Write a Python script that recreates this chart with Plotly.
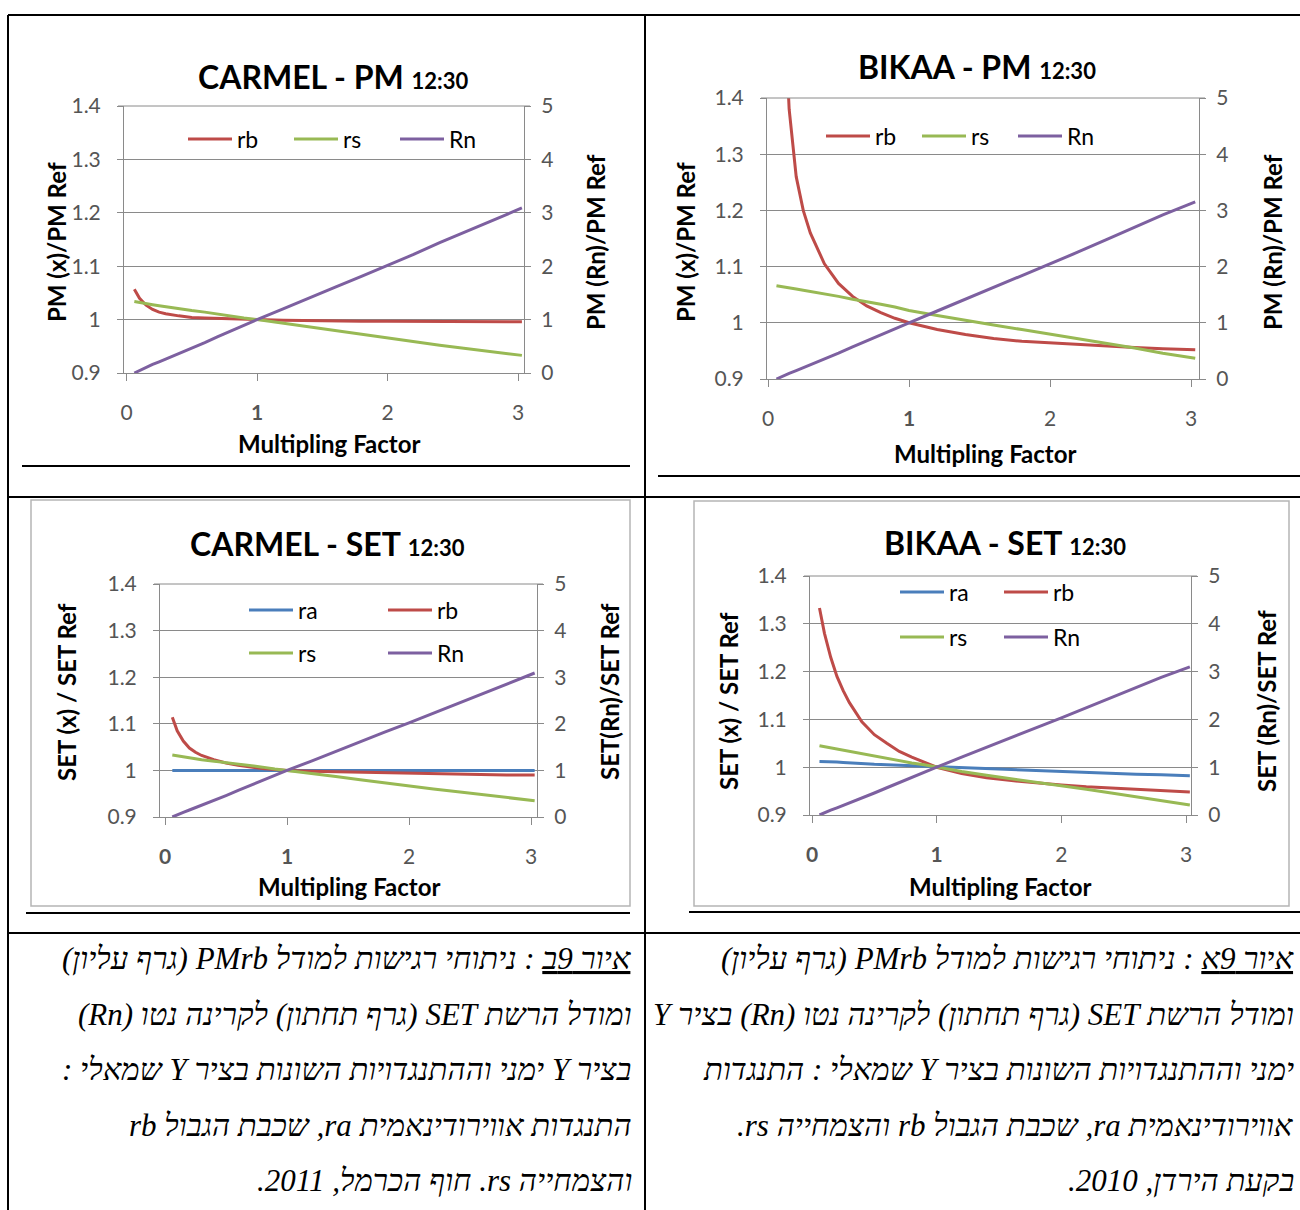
import plotly.graph_objects as go

W, H = 1300, 1210

# ---- data -------------------------------------------------------------
FACTOR = [0.06, 0.1, 0.15, 0.2, 0.25, 0.3, 0.4, 0.5, 0.6, 0.7, 0.8, 0.9, 1.0,
          1.2, 1.4, 1.6, 1.8, 2.0, 2.2, 2.4, 2.6, 2.8, 3.03]

# CARMEL - PM
CARMEL_PM_RB = [1.057, 1.040, 1.027, 1.019, 1.014, 1.011, 1.007, 1.004, 1.003, 1.002, 1.001, 1.0005, 1.0,
                0.999, 0.998, 0.998, 0.997, 0.997, 0.997, 0.996, 0.996, 0.996, 0.996]
CARMEL_PM_RS = [1.034, 1.032, 1.030, 1.028, 1.026, 1.024, 1.020, 1.017, 1.014, 1.010, 1.007, 1.003, 1.0,
                0.993, 0.986, 0.979, 0.972, 0.966, 0.959, 0.952, 0.946, 0.940, 0.933]
CARMEL_PM_RN = [0.0, 0.05, 0.10, 0.16, 0.21, 0.26, 0.36, 0.46, 0.57, 0.68, 0.79, 0.89, 1.0,
                1.20, 1.41, 1.61, 1.81, 2.01, 2.22, 2.44, 2.65, 2.86, 3.09]

# BIKAA - PM
BIKAA_PM_RB = [2.20, 1.65, 1.38, 1.26, 1.20, 1.16, 1.105, 1.07, 1.047, 1.030, 1.018, 1.008, 1.0,
               0.988, 0.979, 0.972, 0.967, 0.964, 0.961, 0.958, 0.956, 0.954, 0.952]
BIKAA_PM_RS = [1.066, 1.064, 1.062, 1.060, 1.058, 1.056, 1.051, 1.047, 1.042, 1.038, 1.033, 1.028, 1.022,
               1.013, 1.004, 0.996, 0.988, 0.980, 0.971, 0.963, 0.955, 0.946, 0.937]
BIKAA_PM_RN = [0.0, 0.05, 0.10, 0.15, 0.20, 0.25, 0.36, 0.46, 0.57, 0.68, 0.79, 0.90, 1.0,
               1.21, 1.42, 1.63, 1.83, 2.04, 2.26, 2.48, 2.70, 2.92, 3.15]

# CARMEL - SET
CARMEL_SET_RA = [1.0, 1.0, 1.0, 1.0, 1.0, 1.0, 1.0, 1.0, 1.0, 1.0, 1.0, 1.0, 1.0,
                 1.0, 1.0, 1.0, 1.0, 1.0, 1.0, 1.0, 1.0, 1.0, 1.0]
CARMEL_SET_RB = [1.114, 1.085, 1.063, 1.048, 1.039, 1.032, 1.023, 1.016, 1.011, 1.007, 1.004, 1.002, 1.0,
                 0.998, 0.997, 0.995, 0.994, 0.993, 0.993, 0.991, 0.990, 0.990, 0.990]
CARMEL_SET_RS = [1.033, 1.031, 1.029, 1.027, 1.025, 1.023, 1.020, 1.016, 1.013, 1.010, 1.007, 1.003, 1.0,
                 0.993, 0.987, 0.980, 0.973, 0.967, 0.960, 0.954, 0.948, 0.942, 0.935]
CARMEL_SET_RN = [0.0, 0.05, 0.10, 0.15, 0.20, 0.25, 0.36, 0.46, 0.57, 0.68, 0.79, 0.89, 1.0,
                 1.20, 1.41, 1.61, 1.82, 2.02, 2.23, 2.44, 2.65, 2.86, 3.09]

# BIKAA - SET
BIKAA_SET_RA = [1.012, 1.012, 1.011, 1.011, 1.010, 1.009, 1.008, 1.006, 1.005, 1.004, 1.003, 1.001, 1.0,
                0.998, 0.997, 0.995, 0.993, 0.991, 0.989, 0.987, 0.985, 0.984, 0.982]
BIKAA_SET_RB = [1.333, 1.280, 1.230, 1.190, 1.160, 1.135, 1.095, 1.068, 1.050, 1.033, 1.021, 1.010, 1.0,
                0.987, 0.978, 0.972, 0.967, 0.963, 0.959, 0.956, 0.953, 0.950, 0.948]
BIKAA_SET_RS = [1.045, 1.043, 1.041, 1.039, 1.036, 1.034, 1.029, 1.024, 1.019, 1.014, 1.009, 1.005, 1.0,
                0.991, 0.983, 0.976, 0.969, 0.962, 0.954, 0.946, 0.938, 0.930, 0.921]
BIKAA_SET_RN = [0.0, 0.05, 0.10, 0.15, 0.20, 0.25, 0.36, 0.46, 0.57, 0.68, 0.79, 0.90, 1.0,
                1.21, 1.42, 1.62, 1.83, 2.03, 2.24, 2.46, 2.67, 2.88, 3.10]

X_TICKS = [0, 1, 2, 3]
X_LABELS_TOP = ["0", "<b>1</b>", "2", "3"]
X_LABELS_BOTTOM = ["<b>0</b>", "<b>1</b>", "2", "3"]
Y_TICKS = [0.9, 1.0, 1.1, 1.2, 1.3, 1.4]
Y_LABELS = ["0.9", "1", "1.1", "1.2", "1.3", "1.4"]
Y2_TICKS = [0, 1, 2, 3, 4, 5]
Y2_LABELS = ["0", "1", "2", "3", "4", "5"]

CAPTION_A = [
    "<u>איור 9א</u> : ניתוחי רגישות למודל PMrb (גרף עליון)",
    "ומודל הרשת SET (גרף תחתון) לקרינה נטו (Rn) בציר Y",
    "ימני וההתנגדויות השונות בציר Y שמאלי : התנגדות",
    "אווירודינאמית ra, שכבת הגבול rb והצמחייה rs.",
    "בקעת הירדן, 2010.",
]
CAPTION_B = [
    "<u>איור 9ב</u> : ניתוחי רגישות למודל PMrb (גרף עליון)",
    "ומודל הרשת SET (גרף תחתון) לקרינה נטו (Rn)",
    "בציר Y ימני וההתנגדויות השונות בציר Y שמאלי :",
    "התנגדות אווירודינאמית ra, שכבת הגבול rb",
    "והצמחייה rs. חוף הכרמל, 2011.",
]

# ---- styling ----------------------------------------------------------
COLORS = {"ra": "#4A7EBB", "rb": "#BE4B48", "rs": "#98B954", "Rn": "#7D60A0"}
FONT = "Lato"
GRID = "#8a8a8a"
TICK_COLOR = "#555555"


def px(x):
    return x / W


def py(y):
    return 1 - y / H


# pixel geometry of each panel: plot box, x position of tick 0, px per unit
PANELS = [
    dict(name="CARMEL - PM", box=(124, 524, 106, 373), x0=126.5, unit=130.5,
         xlabels=X_LABELS_TOP, ylab="PM (x)/PM Ref", y2lab="PM (Rn)/PM Ref",
         title_xy=(333, 77), ylab_x=57, y2lab_x=596, ylab_y=242, xlab_y=443, xlab_x=329,
         series=[("rb", CARMEL_PM_RB), ("rs", CARMEL_PM_RS), ("Rn", CARMEL_PM_RN)],
         legends=[(["rb", "rs", "Rn"], 188, 139, 47)]),
    dict(name="BIKAA - PM", box=(767, 1199, 98, 379), x0=768, unit=141,
         xlabels=X_LABELS_TOP, ylab="PM (x)/PM Ref", y2lab="PM (Rn)/PM Ref",
         title_xy=(977, 67), ylab_x=686, y2lab_x=1273, ylab_y=242, xlab_y=453, xlab_x=985,
         series=[("rb", BIKAA_PM_RB), ("rs", BIKAA_PM_RS), ("Rn", BIKAA_PM_RN)],
         legends=[(["rb", "rs", "Rn"], 826, 136, 37)]),
    dict(name="CARMEL - SET", box=(160, 537, 584, 817), x0=165, unit=122,
         xlabels=X_LABELS_BOTTOM, ylab="SET (x) / SET Ref", y2lab="SET(Rn)/SET Ref",
         title_xy=(327, 543), ylab_x=66, y2lab_x=609, ylab_y=692, xlab_y=886, xlab_x=349,
         series=[("ra", CARMEL_SET_RA), ("rb", CARMEL_SET_RB), ("rs", CARMEL_SET_RS), ("Rn", CARMEL_SET_RN)],
         legends=[(["ra", "rb"], 249, 610, 80), (["rs", "Rn"], 249, 653, 80)]),
    dict(name="BIKAA - SET", box=(810, 1191, 576, 815), x0=812, unit=124.7,
         xlabels=X_LABELS_BOTTOM, ylab="SET (x) / SET Ref", y2lab="SET (Rn)/SET Ref",
         title_xy=(1005, 542), ylab_x=728, y2lab_x=1266, ylab_y=701, xlab_y=886, xlab_x=1000,
         series=[("ra", BIKAA_SET_RA), ("rb", BIKAA_SET_RB), ("rs", BIKAA_SET_RS), ("Rn", BIKAA_SET_RN)],
         legends=[(["ra", "rb"], 900, 592, 45), (["rs", "Rn"], 900, 637, 45)]),
]

fig = go.Figure()
layout = dict(width=W, height=H, margin=dict(l=0, r=0, t=0, b=0, autoexpand=False),
              paper_bgcolor="white", plot_bgcolor="rgba(0,0,0,0)",
              showlegend=True, font=dict(family=FONT, color="#000"))
annotations = []
shapes = []
legend_count = 0

for i, p in enumerate(PANELS):
    xa = "x" if i == 0 else f"x{i + 1}"
    ya = "y" if i == 0 else f"y{2 * i + 1}"
    y2a = f"y{2 * i + 2}"
    xkey = "xaxis" if i == 0 else f"xaxis{i + 1}"
    ykey = "yaxis" if i == 0 else f"yaxis{2 * i + 1}"
    y2key = f"yaxis{2 * i + 2}"
    L, R, T, B = p["box"]
    xr = [(L - p["x0"]) / p["unit"], (R - p["x0"]) / p["unit"]]

    layout[xkey] = dict(domain=[px(L), px(R)], range=xr, anchor=ya, automargin=False,
                        tickvals=X_TICKS, ticktext=p["xlabels"], ticks="outside",
                        ticklen=7, tickcolor=GRID, showline=True, linecolor=GRID,
                        showgrid=False, zeroline=False, ticklabelstandoff=14,
                        tickfont=dict(family=FONT, size=21, color=TICK_COLOR))
    layout[ykey] = dict(domain=[py(B), py(T)], range=[0.9, 1.4], anchor=xa, automargin=False,
                        tickvals=Y_TICKS, ticktext=Y_LABELS, ticks="outside",
                        ticklen=6, tickcolor=GRID, showline=True, linecolor=GRID,
                        showgrid=True, gridcolor=GRID, gridwidth=1, zeroline=False,
                        ticklabelstandoff=12,
                        tickfont=dict(family=FONT, size=21, color=TICK_COLOR))
    layout[y2key] = dict(domain=[py(B), py(T)], range=[0, 5], anchor=xa, overlaying=ya,
                         side="right", tickvals=Y2_TICKS, ticktext=Y2_LABELS, automargin=False,
                         ticks="outside", ticklen=6, tickcolor=GRID, showline=True,
                         linecolor=GRID, showgrid=False, zeroline=False,
                         ticklabelstandoff=6,
                         tickfont=dict(family=FONT, size=21, color=TICK_COLOR))

    # legend assignment per row
    leg_of = {}
    for names, lx, ly, ew in p["legends"]:
        legend_count += 1
        lkey = "legend" if legend_count == 1 else f"legend{legend_count}"
        for n in names:
            leg_of[n] = lkey
        layout[lkey] = dict(x=px(lx - 5), y=py(ly), xanchor="left", yanchor="middle",
                            orientation="h", bgcolor="rgba(0,0,0,0)",
                            font=dict(family=FONT, size=23, color="#000"),
                            itemwidth=44, entrywidth=ew, entrywidthmode="pixels",
                            traceorder="normal", tracegroupgap=0)

    for name, vals in p["series"]:
        fig.add_trace(go.Scatter(
            x=FACTOR, y=vals, name=name, mode="lines",
            line=dict(color=COLORS[name], width=3),
            xaxis=xa, yaxis=(y2a if name == "Rn" else ya),
            legend=leg_of[name], cliponaxis=True))

    # chart title
    tx, ty = p["title_xy"]
    annotations.append(dict(
        x=px(tx), y=py(ty), xref="paper", yref="paper", showarrow=False,
        xanchor="center", yanchor="middle",
        text=f"<b>{p['name']} </b><b><span style='font-size:22px'>12:30</span></b>",
        font=dict(family=FONT, size=32, color="#000")))
    # axis titles
    annotations.append(dict(
        x=px(p["xlab_x"]), y=py(p["xlab_y"]), xref="paper", yref="paper", showarrow=False,
        xanchor="center", yanchor="middle", text="<b>Multipling Factor</b>",
        font=dict(family=FONT, size=24, color="#000")))
    annotations.append(dict(
        x=px(p["ylab_x"]), y=py(p["ylab_y"]), xref="paper", yref="paper", showarrow=False,
        xanchor="center", yanchor="middle", textangle=-90, text=f"<b>{p['ylab']}</b>",
        font=dict(family=FONT, size=24, color="#000")))
    annotations.append(dict(
        x=px(p["y2lab_x"]), y=py(p["ylab_y"]), xref="paper", yref="paper", showarrow=False,
        xanchor="center", yanchor="middle", textangle=-90, text=f"<b>{p['y2lab']}</b>",
        font=dict(family=FONT, size=24, color="#000")))
    # top edge gridline of the plot box
    shapes.append(dict(type="line", xref="paper", yref="paper",
                       x0=px(L - 6), x1=px(R + 6), y0=py(T), y1=py(T),
                       line=dict(color=GRID, width=1)))

# ---- table frame and captions -----------------------------------------
BLACK = dict(color="#000", width=2)
table_lines = [
    (8, 15, 1300, 15), (8, 15, 8, 1210), (645, 15, 645, 1210),
    (8, 497, 1300, 497), (8, 933, 1300, 933),
    (22, 466, 630, 466), (658, 476, 1300, 476),
    (26, 913, 630, 913), (689, 912, 1300, 912),
]
for x0, y0, x1, y1 in table_lines:
    shapes.append(dict(type="line", xref="paper", yref="paper",
                       x0=px(x0), y0=py(y0), x1=px(x1), y1=py(y1), line=BLACK))
for x0, y0, x1, y1 in [(31, 500, 630, 906), (694, 501, 1289, 906)]:
    shapes.append(dict(type="rect", xref="paper", yref="paper",
                       x0=px(x0), y0=py(y0), x1=px(x1), y1=py(y1),
                       line=dict(color="#b5b5b5", width=1.5)))

LINE_Y = [958, 1014, 1069, 1125, 1180]
for lines, right in [(CAPTION_B, 634), (CAPTION_A, 1296)]:
    for txt, yy in zip(lines, LINE_Y):
        annotations.append(dict(
            x=px(right), y=py(yy), xref="paper", yref="paper", showarrow=False,
            xanchor="right", yanchor="middle", text="\u202b" + txt + "\u202c",
            font=dict(family="Liberation Serif", size=31, color="#000", style="italic")))

layout["annotations"] = annotations
layout["shapes"] = shapes
fig.update_layout(**layout)
fig.write_html("out.html")
